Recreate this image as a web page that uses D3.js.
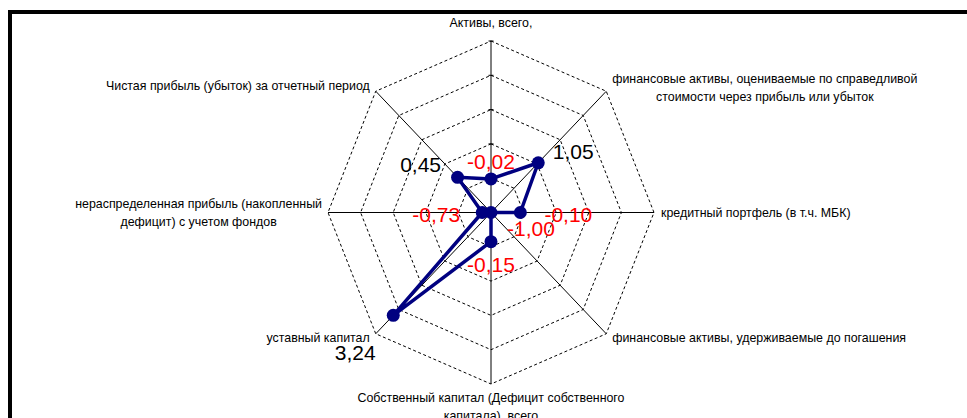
<!DOCTYPE html>
<html>
<head>
<meta charset="utf-8">
<script src="https://cdn.jsdelivr.net/npm/d3@7"></script>
<style>
html,body{margin:0;padding:0;background:#fff;}
svg{display:block;font-family:"Liberation Sans",Arial,sans-serif;}
</style>
</head>
<body>
<svg id="chart" width="967" height="418"></svg>
<script>
// ---- data ----
const categories = [
  "Активы, всего,",
  "финансовые активы, оцениваемые по справедливой\nстоимости через прибыль или убыток",
  "кредитный портфель (в т.ч. МБК)",
  "финансовые активы, удерживаемые до погашения",
  "Собственный капитал (Дефицит собственного\nкапитала), всего",
  "уставный капитал",
  "нераспределенная прибыль (накопленный\nдефицит) с учетом фондов",
  "Чистая прибыль (убыток) за отчетный период"
];
const values = [-0.02, 1.05, -0.10, -1.00, -0.15, 3.24, -0.73, 0.45];
const axisTicks = [-1, 0, 1, 2, 3, 4];

// ---- layout ----
const W = 967, H = 418;
const cx = 491, cy = 212.5, rx = 163, ry = 171.5;
// data-label offsets from the marker (label centre)
const labelOffsets = [[0,-17],[35,-11],[48,2],[40,16],[0,23],[-38,38],[-46,2],[-37,-12]];

const svg = d3.select("#chart");

// frame (partially visible)
svg.append("path")
  .attr("d", `M10,${H+5} L10,12 L${W+5},12`)
  .attr("fill","none").attr("stroke","#000").attr("stroke-width",4);

const r = d3.scaleLinear().domain([d3.min(axisTicks), d3.max(axisTicks)]).range([0,1]);
const n = categories.length;
const angle = i => i * 2 * Math.PI / n;
const pt = (i, v) => {
  const f = r(v), a = angle(i);
  return [cx + f*rx*Math.sin(a), cy - f*ry*Math.cos(a)];
};

const g = svg.append("g");

// rings (dashed octagons)
axisTicks.slice(1).forEach(t => {
  const pts = d3.range(n).map(i => pt(i, t));
  g.append("path")
    .attr("d", d3.line()(pts) + "Z")
    .attr("fill","none").attr("stroke","#000").attr("stroke-width",1)
    .attr("stroke-dasharray","3,2.5");
});

// spokes
d3.range(n).forEach(i => {
  const [x1,y1] = pt(i, d3.min(axisTicks));
  const [x2,y2] = pt(i, d3.max(axisTicks));
  g.append("line").attr("x1",x1).attr("y1",y1).attr("x2",x2).attr("y2",y2)
    .attr("stroke","#000").attr("stroke-width",1);
});
// tick marks on vertical value axis
axisTicks.forEach(t => {
  const [x,y] = pt(0,t);
  g.append("line").attr("x1",x-2.5).attr("x2",x+2.5).attr("y1",y).attr("y2",y)
    .attr("stroke","#000").attr("stroke-width",1);
});

// category labels
const place = [
  {h:"mid", dx:0, dy:-14, top:false},
  {h:"start", dx:6, dy:-3},
  {h:"start", dx:7, dy:0},
  {h:"start", dx:6, dy:4},
  {h:"mid", dx:0, dy:14, top:true},
  {h:"end", dx:-6, dy:4},
  {h:"end", dx:-6, dy:0},
  {h:"end", dx:-6, dy:-5}
];
const lineH = 18;
categories.forEach((c, i) => {
  const [vx, vy] = pt(i, d3.max(axisTicks));
  const lines = c.split("\n");
  const t = g.append("text").attr("font-size",12.4).attr("fill","#000").attr("text-anchor","middle");
  lines.forEach((l) => t.append("tspan").text(l));
  const widths = [];
  t.selectAll("tspan").each(function(){ widths.push(this.getComputedTextLength()); });
  const bw = d3.max(widths);
  const p = place[i];
  let mx;
  if (p.h === "mid") mx = vx + p.dx;
  else if (p.h === "start") mx = vx + p.dx + bw/2;
  else mx = vx + p.dx - bw/2;
  let firstBase;
  if (p.h === "mid") firstBase = vy + p.dy + (p.top ? 4 : 0);
  else firstBase = vy + p.dy - (lines.length-1)*lineH/2 + 4;
  t.selectAll("tspan").attr("x", mx).attr("y", (d,j) => firstBase + j*lineH);
});

// series
const pts = values.map((v,i) => pt(i,v));
g.append("path")
  .attr("d", d3.line()(pts) + "Z")
  .attr("fill","none").attr("stroke","#000080").attr("stroke-width",3.5)
  .attr("stroke-linejoin","round");
g.selectAll("circle.m").data(values).enter().append("circle")
  .attr("cx",(d,i)=>pt(i,d)[0]).attr("cy",(d,i)=>pt(i,d)[1])
  .attr("r",6.5).attr("fill","#000080");

// data labels
const fmt = d3.formatLocale({decimal:",", thousands:" ", grouping:[3], currency:["",""], minus:"-"}).format(".2f");
g.selectAll("text.dl").data(values).enter().append("text")
  .attr("class","dl")
  .attr("x",(d,i)=>pt(i,d)[0]+labelOffsets[i][0])
  .attr("y",(d,i)=>pt(i,d)[1]+labelOffsets[i][1]+7)
  .attr("text-anchor","middle")
  .attr("font-size",21)
  .attr("fill", d => d < 0 ? "#ff0000" : "#000")
  .text(d => fmt(d));
</script>
</body>
</html>
